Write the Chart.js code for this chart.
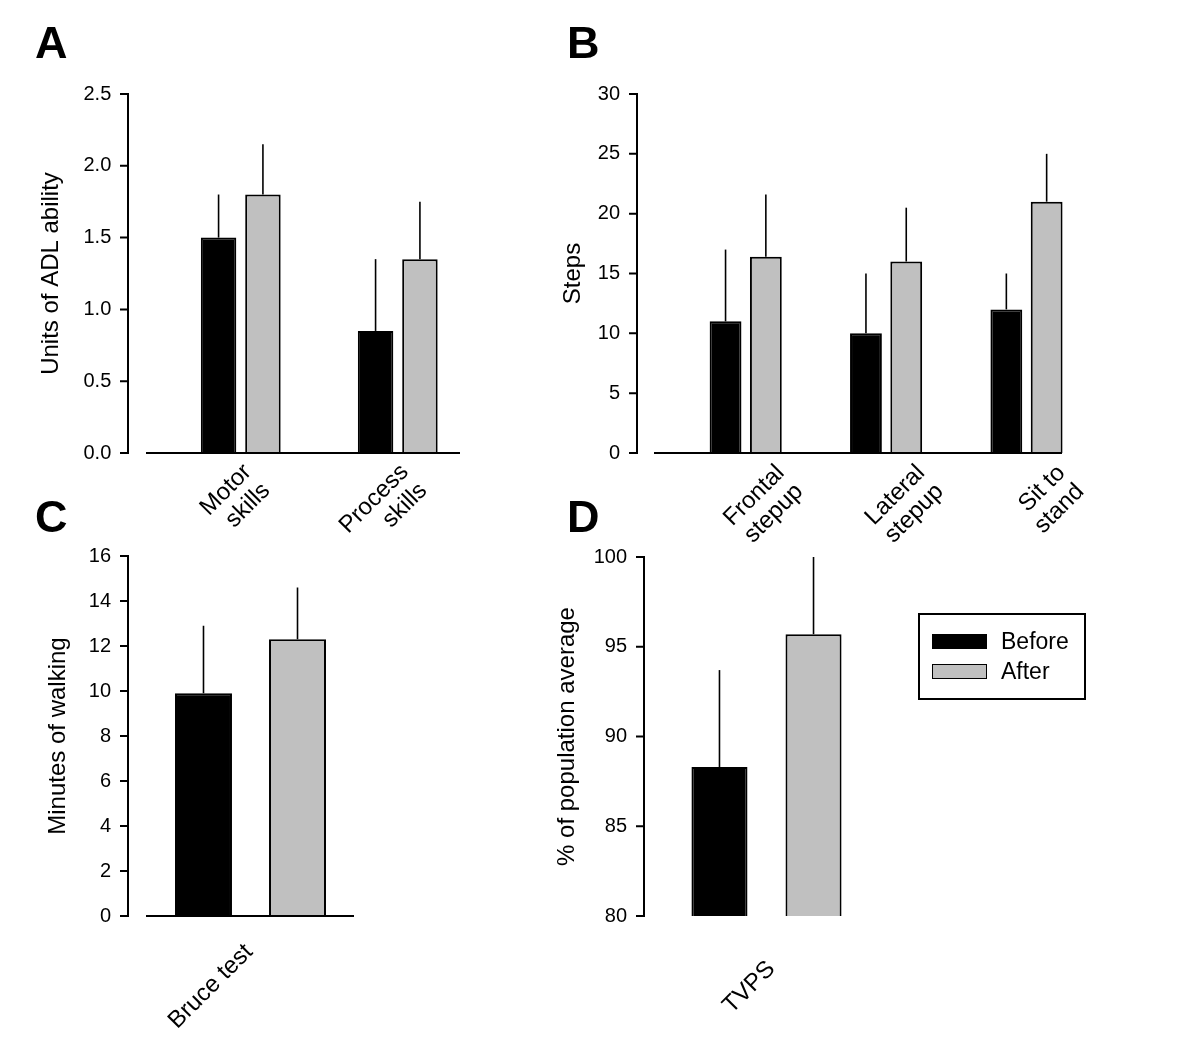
<!DOCTYPE html>
<html>
<head>
<meta charset="utf-8">
<title>Before / after training</title>
<script src="https://cdn.jsdelivr.net/npm/chart.js@4.4.1/dist/chart.umd.min.js"></script>
<style>
  html, body { margin: 0; padding: 0; background: #fff; }
  #page { position: relative; width: 1200px; height: 1064px; overflow: hidden; font-family: 'Liberation Sans', Arial, sans-serif; color: #000; }
  #page canvas { position: absolute; left: 0; top: 0; }
  .panel-letter { position: absolute; font-weight: bold; font-size: 45px; line-height: 45px; }
  #legend { position: absolute; left: 918px; top: 613px; width: 168px; height: 87px; box-sizing: border-box; border: 2px solid #000; }
  #legend .sw { position: absolute; left: 12px; width: 55px; height: 15px; box-sizing: border-box; border: 1.5px solid #000; }
  #legend .lbl { position: absolute; left: 81px; font-size: 23px; line-height: 23px; white-space: nowrap; }
</style>
</head>
<body>
<div id="page">
  <canvas id="chart-a" width="1200" height="1064"></canvas>
  <canvas id="chart-b" width="1200" height="1064"></canvas>
  <canvas id="chart-c" width="1200" height="1064"></canvas>
  <canvas id="chart-d" width="1200" height="1064"></canvas>
  <div class="panel-letter" style="left:35px;top:20px">A</div>
  <div class="panel-letter" style="left:567px;top:20px">B</div>
  <div class="panel-letter" style="left:35px;top:494px">C</div>
  <div class="panel-letter" style="left:567px;top:494px">D</div>
  <div id="legend"></div>
</div>
<script>
(function () {
  var SERIES = ['Before', 'After'];
  var SERIES_COLORS = ['#000000', '#c0c0c0'];

  // A - ADL ability
  var A_CATEGORIES = [['Motor', 'skills'], ['Process', 'skills']];
  var A_BEFORE = [1.5, 0.85];
  var A_BEFORE_SD = [0.3, 0.5];
  var A_AFTER = [1.8, 1.35];
  var A_AFTER_SD = [0.35, 0.4];
  var A_TICKS = ['0.0', '0.5', '1.0', '1.5', '2.0', '2.5'];

  // B - step tests
  var B_CATEGORIES = [['Frontal', 'stepup'], ['Lateral', 'stepup'], ['Sit to', 'stand']];
  var B_BEFORE = [11, 10, 12];
  var B_BEFORE_SD = [6, 5, 3];
  var B_AFTER = [16.4, 16, 21];
  var B_AFTER_SD = [5.2, 4.5, 4];
  var B_TICKS = ['0', '5', '10', '15', '20', '25', '30'];

  // C - treadmill
  var C_CATEGORIES = ['Bruce test'];
  var C_BEFORE = [9.9];
  var C_BEFORE_SD = [3.0];
  var C_AFTER = [12.3];
  var C_AFTER_SD = [2.3];
  var C_TICKS = ['0', '2', '4', '6', '8', '10', '12', '14', '16'];

  // D - visual perception
  var D_CATEGORIES = ['TVPS'];
  var D_BEFORE = [88.3];
  var D_BEFORE_SD = [5.4];
  var D_AFTER = [95.7];
  var D_AFTER_SD = [4.3];
  var D_TICKS = ['80', '85', '90', '95', '100'];

  var PAGE_W = 1200;
  var PAGE_H = 1064;
  var X_AXIS_H = 140;

  Chart.defaults.font.family = "'Liberation Sans', Arial, sans-serif";
  Chart.defaults.color = '#000';

  // plot boxes, in page pixels (y axis is drawn offset from the bars, SigmaPlot style)
  var panels = [
    { canvas: 'chart-a', title: 'Units of ADL ability', categories: A_CATEGORIES, ticks: A_TICKS,
      before: A_BEFORE, beforeSd: A_BEFORE_SD, after: A_AFTER, afterSd: A_AFTER_SD,
      box: { left: 162.25, right: 476.25, top: 94, bottom: 453, axisX: 128, xLine: [146, 460],
             titleLeft: 37, tickPad: 51, labelOffset: 7, labelPad: 6, cp: 0.565, bp: 0.8 } },
    { canvas: 'chart-b', title: 'Steps', categories: B_CATEGORIES, ticks: B_TICKS,
      before: B_BEFORE, beforeSd: B_BEFORE_SD, after: B_AFTER, afterSd: B_AFTER_SD,
      box: { left: 675.5, right: 1096.7, top: 94, bottom: 453, axisX: 637, xLine: [654, 1062],
             titleLeft: 559, tickPad: 55.5, labelOffset: 35, labelPad: 7, cp: 0.574, bp: 0.79 } },
    { canvas: 'chart-c', title: 'Minutes of walking', categories: C_CATEGORIES, ticks: C_TICKS,
      before: C_BEFORE, beforeSd: C_BEFORE_SD, after: C_AFTER, afterSd: C_AFTER_SD,
      box: { left: 146.5, right: 354.5, top: 556, bottom: 916, axisX: 128, xLine: [146, 354],
             titleLeft: 44, tickPad: 35.5, labelOffset: -1.5, labelPad: 23, cp: 0.904, bp: 0.606 } },
    { canvas: 'chart-d', title: '% of population average', categories: D_CATEGORIES, ticks: D_TICKS,
      before: D_BEFORE, beforeSd: D_BEFORE_SD, after: D_AFTER, afterSd: D_AFTER_SD,
      box: { left: 656.5, right: 876.5, top: 557, bottom: 916, axisX: 644, xLine: null,
             titleLeft: 553, tickPad: 29.5, labelOffset: 5, labelPad: 40, cp: 0.855, bp: 0.596 } }
  ];

  var errorBars = {
    id: 'errorBars',
    afterDatasetsDraw: function (chart) {
      var ctx = chart.ctx;
      var yScale = chart.scales.y;
      ctx.save();
      ctx.strokeStyle = '#000';
      ctx.lineWidth = 1.6;
      chart.data.datasets.forEach(function (ds, i) {
        chart.getDatasetMeta(i).data.forEach(function (bar, j) {
          var top = yScale.getPixelForValue(ds.data[j] + ds.sd[j]);
          ctx.beginPath();
          ctx.moveTo(bar.x, bar.y);
          ctx.lineTo(bar.x, top);
          ctx.stroke();
        });
      });
      ctx.restore();
    }
  };

  function axesPlugin(box) {
    return {
      id: 'offsetAxes',
      afterDatasetsDraw: function (chart) {
        var ctx = chart.ctx;
        var y = chart.scales.y;
        var area = chart.chartArea;
        ctx.save();
        ctx.strokeStyle = '#000';
        ctx.lineWidth = 2;
        ctx.beginPath();
        ctx.moveTo(box.axisX, y.getPixelForValue(y.max) - 1);
        ctx.lineTo(box.axisX, y.getPixelForValue(y.min) + 1);
        y.ticks.forEach(function (t) {
          var py = y.getPixelForValue(t.value);
          ctx.moveTo(box.axisX - 8, py);
          ctx.lineTo(box.axisX, py);
        });
        if (box.xLine) {
          ctx.moveTo(box.xLine[0], area.bottom);
          ctx.lineTo(box.xLine[1], area.bottom);
        }
        ctx.stroke();
        ctx.restore();
      }
    };
  }

  function makeDataset(i, values, sd) {
    return {
      label: SERIES[i],
      data: values,
      sd: sd,
      backgroundColor: SERIES_COLORS[i],
      borderColor: '#000',
      borderWidth: 2
    };
  }

  function makeChart(p) {
    var box = p.box;
    var ticks = p.ticks;
    return new Chart(document.getElementById(p.canvas), {
      type: 'bar',
      data: {
        labels: p.categories,
        datasets: [makeDataset(0, p.before, p.beforeSd), makeDataset(1, p.after, p.afterSd)]
      },
      options: {
        responsive: false,
        animation: false,
        events: [],
        layout: {
          padding: { left: box.titleLeft, top: box.top, right: PAGE_W - box.right, bottom: PAGE_H - box.bottom - X_AXIS_H }
        },
        datasets: { bar: { categoryPercentage: box.cp, barPercentage: box.bp } },
        plugins: { legend: { display: false }, tooltip: { enabled: false } },
        scales: {
          x: {
            grid: { display: false, drawTicks: false },
            border: { display: false },
            ticks: {
              autoSkip: false, minRotation: 45, maxRotation: 45,
              padding: box.labelPad, labelOffset: box.labelOffset,
              color: '#000', font: { size: 24, lineHeight: 1.1 }
            },
            afterFit: function (s) { s.height = X_AXIS_H; }
          },
          y: {
            min: Number(ticks[0]),
            max: Number(ticks[ticks.length - 1]),
            grid: { display: false, drawTicks: false },
            border: { display: false },
            ticks: {
              padding: box.tickPad, color: '#000', font: { size: 20 },
              callback: function (v, i) { return ticks[i]; }
            },
            afterBuildTicks: function (s) {
              s.ticks = ticks.map(function (t) { return { value: Number(t) }; });
            },
            title: { display: true, text: p.title, color: '#000', font: { size: 24 }, padding: 0 },
            afterFit: function (s) { s.width = box.left - box.titleLeft; }
          }
        }
      },
      plugins: [axesPlugin(box), errorBars]
    });
  }

  function buildLegend() {
    var el = document.getElementById('legend');
    SERIES.forEach(function (name, i) {
      var sw = document.createElement('div');
      sw.className = 'sw';
      sw.style.top = (19 + i * 30) + 'px';
      sw.style.background = SERIES_COLORS[i];
      el.appendChild(sw);
      var lbl = document.createElement('div');
      lbl.className = 'lbl';
      lbl.style.top = (15.3 + i * 30) + 'px';
      lbl.textContent = name;
      el.appendChild(lbl);
    });
  }

  document.addEventListener('DOMContentLoaded', function () {
    panels.forEach(makeChart);
    buildLegend();
  });
})();
</script>
</body>
</html>
